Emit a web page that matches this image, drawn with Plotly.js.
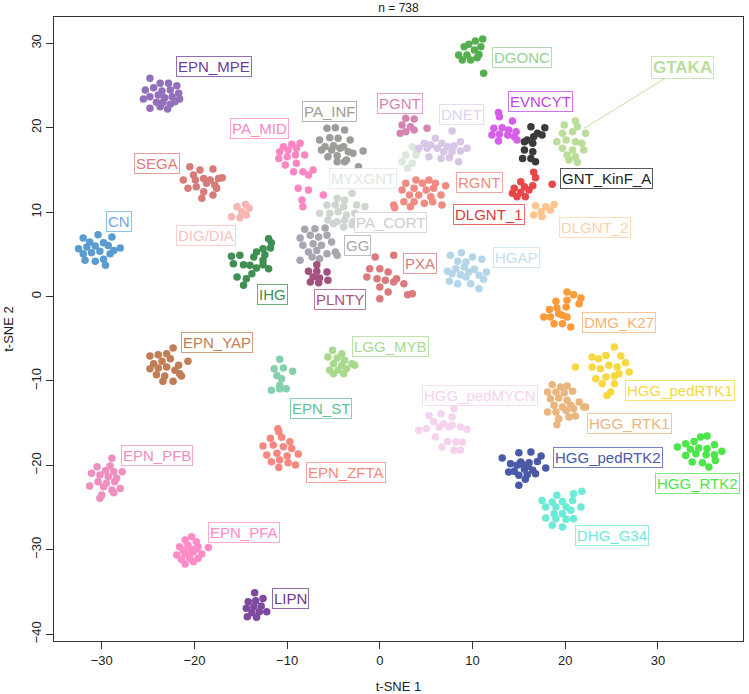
<!DOCTYPE html>
<html>
<head>
<meta charset="utf-8">
<script src="https://cdn.plot.ly/plotly-3.0.1.min.js"></script>
<style>html,body{margin:0;padding:0;background:#fff;}#chart{width:749px;height:694px;}</style>
</head>
<body>
<div id="chart"></div>
<script>
// ---- data (t-SNE coordinates) ----
const classNames = ["CN","DIG/DIA","SEGA","EPN_MPE","PA_MID","PA_INF","MYXGNT","PA_CORT","GG","PLNTY","IHG","EPN_YAP","EPN_ST","LGG_MYB","EPN_ZFTA","EPN_PFB","EPN_PFA","LIPN","DGONC","GTAKA","EVNCYT","GNT_KinF_A","DNET","PGNT","RGNT","DLGNT_1","DLGNT_2","PXA","HGAP","DMG_K27","HGG_pedRTK1","HGG_RTK1","HGG_pedMYCN","HGG_pedRTK2","HGG_RTK2","DHG_G34"];

const x_CN = [-32.0,-30.4,-28.9,-31.3,-29.8,-32.5,-31.6,-30.7,-29.3,-28.0,-32.0,-31.1,-30.2,-29.1,-31.8,-30.7,-29.8,-29.6,-28.7];
const y_CN = [6.93,7.32,7.05,6.46,6.37,5.66,5.86,5.98,6.06,5.75,5.07,5.19,5.36,5.07,4.29,4.17,4.41,3.70,5.47];

const x_DIG_DIA = [-15.4,-14.5,-14.1,-14.9,-14.4,-16.0,-15.1];
const y_DIG_DIA = [10.64,10.92,10.45,10.05,9.66,9.45,9.34];

const x_SEGA = [-20.5,-19.4,-18.0,-21.2,-20.1,-19.0,-18.3,-17.4,-17.0,-20.7,-19.8,-18.7,-17.8,-17.6,-19.0,-18.0,-19.2,-19.9];
const y_SEGA = [15.38,14.99,15.11,13.80,14.40,14.00,13.80,14.00,14.07,12.82,13.01,13.41,13.21,12.82,12.42,12.03,11.64,13.80];

const x_EPN_MPE = [-24.8,-23.7,-22.8,-21.9,-25.3,-24.4,-23.5,-22.6,-21.7,-25.5,-24.8,-23.9,-23.2,-22.4,-21.6,-24.1,-23.4,-22.6,-24.8,-23.7,-22.9,-22.1];
const y_EPN_MPE = [25.85,25.26,25.26,24.98,24.47,24.74,24.35,24.47,24.08,23.40,23.67,23.87,23.55,23.67,23.40,23.01,23.01,22.77,22.30,22.49,22.22,23.08];

const x_PA_MID = [-10.4,-9.5,-8.6,-10.8,-9.9,-9.0,-8.1,-10.9,-10.0,-9.1,-10.2,-9.0,-9.3,-8.3,-7.2,-7.7,-8.8,-7.7,-6.1,-8.4,-8.3];
const y_PA_MID = [17.75,18.03,18.15,17.16,17.36,17.56,16.77,16.37,16.56,16.77,15.58,15.78,14.79,14.79,14.99,14.40,12.82,12.62,12.03,11.43,10.64];

const x_PA_INF = [-5.7,-4.8,-3.8,-6.5,-5.4,-4.5,-3.2,-5.9,-5.0,-3.9,-6.3,-5.2,-4.3,-3.4,-1.8,-5.6,-4.6,-3.6,-2.9,-4.6,-3.8,-2.3];
const y_PA_INF = [19.93,20.00,19.73,18.54,18.81,18.74,18.54,17.75,17.87,17.75,17.36,17.36,17.56,17.16,17.24,16.56,16.68,16.17,16.97,15.97,15.97,15.38];

const x_MYXGNT = [3.5,2.8,3.9,2.4,3.5,3.0,4.0];
const y_MYXGNT = [17.75,16.77,16.77,15.97,15.78,15.19,17.16];

const x_PA_CORT = [-3.0,-4.6,-3.8,-5.7,-4.8,-3.9,-2.5,-1.6,-6.5,-5.4,-4.5,-3.6,-2.7,-5.6,-4.6,-3.8,-2.9,-5.0,-3.9,-3.0,-2.1];
const y_PA_CORT = [12.23,11.64,11.43,10.84,10.84,10.64,10.84,10.64,9.86,9.86,10.05,9.66,9.86,9.06,8.86,9.06,8.86,8.63,8.24,8.51,8.63];

const x_GG = [-8.1,-7.0,-5.9,-8.6,-7.5,-6.6,-5.7,-8.3,-7.2,-6.3,-5.2,-7.7,-6.8,-5.7,-4.8,-8.6,-7.3,-6.5,-4.6];
const y_GG = [7.96,8.03,8.12,6.93,7.25,7.05,7.25,6.07,6.26,6.07,6.46,5.27,5.47,5.07,5.27,4.29,4.68,4.48,4.88];

const x_PLNTY = [-6.8,-7.7,-6.8,-5.7,-7.2,-6.5,-7.5,-6.6,-5.6];
const y_PLNTY = [3.77,2.99,2.99,2.90,2.31,2.19,1.72,1.64,1.92];

const x_IHG = [-12.0,-11.7,-12.6,-11.8,-13.3,-12.4,-16.0,-15.1,-13.6,-12.6,-15.8,-14.7,-14.0,-12.0,-13.3,-13.8,-15.4,-14.4,-14.7,-12.6];
const y_IHG = [6.85,6.37,5.66,5.75,5.27,4.95,4.76,4.88,4.68,4.29,3.89,3.77,3.70,3.29,3.38,2.70,2.31,2.11,1.33,3.77];

const x_EPN_YAP = [-22.3,-24.8,-23.9,-23.0,-24.4,-23.5,-22.6,-21.7,-20.7,-24.8,-23.9,-23.0,-22.1,-24.1,-23.2,-21.6,-23.4,-22.3,-21.4];
const y_EPN_YAP = [-6.10,-7.05,-6.90,-6.78,-7.96,-7.68,-7.37,-8.15,-7.68,-8.55,-8.47,-8.35,-8.74,-9.27,-9.42,-9.15,-10.05,-10.05,-9.42];

const x_EPN_ST = [-10.8,-11.4,-10.4,-9.4,-11.1,-10.6,-10.8,-11.7,-10.8,-10.1];
const y_EPN_ST = [-7.44,-8.55,-8.47,-8.86,-9.34,-9.74,-10.52,-11.11,-10.92,-10.92];

const x_LGG_MYB = [-5.1,-4.1,-5.6,-4.6,-3.8,-3.0,-5.0,-4.1,-2.7,-5.4,-4.5,-3.6,-3.9,-5.0];
const y_LGG_MYB = [-6.37,-6.78,-7.17,-7.29,-7.56,-7.96,-7.96,-8.15,-8.15,-8.74,-8.74,-8.55,-9.15,-9.15];

const x_EPN_ZFTA = [-11.0,-10.9,-11.8,-10.6,-9.7,-12.6,-11.5,-10.4,-9.5,-8.8,-12.2,-11.1,-10.0,-11.7,-10.8,-9.9,-9.1,-10.9];
const y_EPN_ZFTA = [-15.66,-16.02,-16.80,-16.68,-17.20,-17.71,-17.60,-17.80,-17.99,-18.66,-18.78,-18.58,-18.90,-19.57,-19.37,-19.69,-19.96,-20.24];

const x_EPN_PFB = [-28.9,-29.1,-30.5,-29.6,-28.7,-27.8,-31.1,-30.2,-29.3,-28.4,-30.4,-29.5,-28.6,-31.3,-29.8,-28.9,-28.0,-30.0,-28.7,-30.2];
const y_EPN_PFB = [-19.17,-20.08,-20.17,-20.64,-20.76,-20.76,-20.95,-21.15,-21.35,-21.54,-21.94,-22.13,-21.94,-22.45,-22.53,-22.93,-22.73,-23.52,-23.25,-23.91];

const x_EPN_PFA = [-20.3,-21.0,-19.8,-21.6,-20.7,-19.6,-18.5,-21.9,-21.0,-20.1,-19.2,-21.4,-20.5,-19.6,-21.0,-20.1,-20.4,-21.2,-19.8,-20.6];
const y_EPN_PFA = [-28.46,-28.85,-29.05,-29.64,-29.44,-29.64,-29.72,-30.63,-30.43,-30.24,-30.51,-31.14,-31.02,-31.02,-31.69,-31.42,-29.90,-30.10,-29.90,-30.70];

const x_LIPN = [-13.5,-14.2,-13.4,-12.6,-14.4,-13.6,-12.8,-13.8,-13.0,-12.2,-14.3,-13.3];
const y_LIPN = [-35.09,-36.16,-36.04,-35.76,-36.94,-36.75,-36.67,-37.46,-37.35,-37.35,-37.94,-38.01];

const x_DGONC = [11.1,10.3,9.6,10.9,9.1,10.2,8.5,9.4,10.7,8.9,9.8,10.5,11.2];
const y_DGONC = [30.51,30.27,29.88,29.60,29.60,29.21,28.61,28.61,28.69,28.02,28.02,28.29,26.45];

const x_GTAKA = [19.9,21.1,21.3,19.7,20.8,22.2,19.1,20.1,21.1,21.8,19.7,20.8,22.0,20.2,21.1,20.4,21.3];
const y_GTAKA = [20.32,20.79,20.12,19.34,19.53,19.34,18.34,18.54,18.34,18.15,17.56,17.36,17.36,16.77,16.56,16.17,15.90];

const x_EVNCYT = [12.8,12.9,14.3,12.3,13.2,13.9,14.7,12.1,12.9,13.8,14.5,12.8,14.8];
const y_EVNCYT = [21.82,21.30,20.79,19.93,20.00,19.73,19.53,19.14,19.22,19.14,18.93,18.42,18.54];

const x_GNT_KinF_A = [16.3,17.8,17.0,15.9,16.6,17.5,15.6,16.5,15.6,16.5,15.4,16.3,16.8];
const y_GNT_KinF_A = [20.12,20.00,19.34,18.54,18.93,19.14,18.34,18.15,17.36,17.16,16.37,16.37,15.97];

const x_DNET = [7.8,6.0,4.8,5.5,6.7,8.7,4.2,5.1,6.2,7.3,8.0,9.4,6.9,7.8,8.7,6.6,7.5,8.5,5.3];
const y_DNET = [19.61,18.74,18.15,17.95,18.15,18.34,17.56,17.56,17.56,17.75,17.87,17.56,17.16,17.16,17.24,16.37,16.45,15.97,16.56];

const x_PGNT = [2.8,3.7,2.4,3.3,5.1,2.8,3.7,2.2];
const y_PGNT = [21.11,21.03,20.32,20.12,19.93,19.53,19.73,19.34];

const x_RGNT = [3.9,5.3,2.8,4.6,6.0,7.1,2.4,3.7,5.0,5.8,3.2,4.2,5.5,6.6,2.6,3.7,4.8,5.7,6.7,3.3,1.5,1.6];
const y_RGNT = [13.80,13.80,13.41,13.41,13.41,13.13,12.62,12.82,12.62,12.82,12.03,12.03,11.83,12.03,11.23,11.23,11.04,11.23,10.84,10.64,10.84,10.52];

const x_DLGNT_1 = [16.6,16.8,15.2,18.6,14.5,15.6,16.5,14.3,15.2,16.1,14.8,15.7];
const y_DLGNT_1 = [14.72,14.08,13.60,13.29,12.82,13.01,13.13,12.23,12.35,12.62,11.83,11.83];

const x_DLGNT_2 = [18.8,16.8,17.9,17.4,18.4,16.6,17.5];
const y_DLGNT_2 = [10.92,10.76,10.64,10.05,10.25,9.66,9.45];

const x_PXA = [-0.5,1.5,-1.1,0.0,0.9,-1.4,-0.3,0.6,1.5,0.0,0.9,0.0,1.8,2.6,3.0,3.5];
const y_PXA = [4.68,4.88,3.29,3.29,2.90,2.31,2.11,1.92,1.72,1.13,0.53,-0.26,2.11,1.52,0.21,0.33];

const x_HGAP = [7.6,8.8,10.0,11.0,8.4,9.3,7.3,8.2,9.1,10.2,7.8,8.7,9.6,11.5,10.7,7.5,8.4,9.8,11.2,10.7,9.3];
const y_HGAP = [4.88,5.19,4.68,4.41,4.17,4.09,2.99,3.29,3.49,3.22,2.70,2.58,2.90,2.90,2.51,1.80,1.52,1.52,2.04,0.92,2.31];

const x_DMG_K27 = [20.2,20.9,21.7,19.0,20.2,21.5,18.3,19.1,20.1,18.4,19.3,20.2,17.7,18.8,19.7,20.6,19.7];
const y_DMG_K27 = [0.53,0.21,-0.18,-0.57,-0.45,-0.85,-1.52,-1.36,-1.24,-2.43,-2.04,-2.43,-2.43,-3.22,-3.22,-3.61,-2.23];

const x_HGG_pedRTK1 = [25.3,22.9,23.6,24.4,26.0,21.1,22.9,23.8,24.7,25.6,26.5,23.3,24.4,25.3,26.9,24.0,25.3,25.8,24.9,24.5];
const y_HGG_pedRTK1 = [-5.98,-7.17,-7.37,-6.97,-7.05,-8.35,-8.35,-8.55,-8.15,-8.35,-7.84,-9.74,-9.54,-9.42,-8.94,-10.33,-10.33,-9.15,-11.31,-11.71];

const x_HGG_RTK1 = [18.6,19.5,20.2,18.1,19.0,19.9,20.8,18.4,19.3,20.2,21.5,18.8,19.7,20.6,22.2,18.1,19.0,20.1,20.9,19.3,20.4,19.1,21.1,22.0];
const y_HGG_RTK1 = [-10.45,-10.72,-10.60,-11.31,-11.31,-11.40,-11.23,-12.11,-12.03,-12.30,-12.50,-12.89,-13.09,-12.89,-13.09,-13.69,-13.69,-13.49,-13.30,-14.48,-14.28,-15.19,-14.16,-13.09];

const x_HGG_pedMYCN = [8.0,5.3,6.6,7.8,5.8,6.9,7.8,8.7,9.4,4.2,5.0,6.4,7.5,6.0,7.3,8.2,8.9,6.7,8.0,8.7];
const y_HGG_pedMYCN = [-13.29,-14.08,-13.89,-14.28,-14.79,-15.07,-15.26,-15.46,-15.73,-15.85,-15.66,-15.46,-15.46,-16.65,-17.16,-17.24,-17.24,-17.83,-18.22,-18.22];

const x_HGG_pedRTK2 = [13.2,15.0,16.3,17.4,14.1,15.2,16.1,17.0,14.5,15.6,16.5,17.9,13.9,15.0,15.9,16.8,15.7,15.0,14.8,16.0,15.4];
const y_HGG_pedRTK2 = [-19.14,-18.51,-18.42,-18.90,-19.81,-19.61,-19.69,-19.53,-20.71,-20.47,-20.59,-20.32,-20.79,-21.18,-21.11,-20.99,-21.66,-22.37,-20.00,-20.10,-19.90];

const x_HGG_RTK2 = [34.6,35.3,33.0,33.9,36.1,32.1,33.5,34.4,35.3,36.9,33.0,34.1,35.2,36.1,33.7,34.8,36.2,35.5];
const y_HGG_RTK2 = [-16.65,-16.53,-17.44,-17.16,-17.56,-17.83,-18.10,-17.95,-18.03,-18.34,-18.82,-18.63,-18.74,-18.74,-19.61,-19.69,-19.41,-20.20];

const x_DHG_G34 = [21.8,20.9,19.1,17.5,18.6,19.7,20.8,17.9,19.0,20.1,21.7,18.8,19.7,20.6,17.9,19.0,20.1,20.9,18.6,19.7];
const y_DHG_G34 = [-23.08,-23.36,-23.55,-24.15,-24.35,-24.27,-24.15,-24.94,-24.94,-24.94,-24.94,-25.73,-25.73,-25.33,-26.24,-26.33,-26.40,-26.33,-27.11,-27.31];

const xTicks = [-30,-20,-10,0,10,20,30];
const yTicks = [-40,-30,-20,-10,0,10,20,30];

// ---- styles & label placement (layout, not data) ----
const pointColor = {
  "CN":"#5b9bd0","DIG/DIA":"#f9b4b4","SEGA":"#d87c79","EPN_MPE":"#9270bb","PA_MID":"#fa86c2",
  "PA_INF":"#9b9e98","MYXGNT":"#dde8dd","PA_CORT":"#cfd6cf","GG":"#a9a6b1","PLNTY":"#a3527f",
  "IHG":"#3d8f52","EPN_YAP":"#c07d56","EPN_ST":"#86d0ab","LGG_MYB":"#a8da8e","EPN_ZFTA":"#f8877f",
  "EPN_PFB":"#ee8fbf","EPN_PFA":"#ff8cc6","LIPN":"#7e4a9f","DGONC":"#56ae51","GTAKA":"#bade9a",
  "EVNCYT":"#d55eea","GNT_KinF_A":"#3a3a3a","DNET":"#d8c6e6","PGNT":"#d485b3","RGNT":"#f08a82",
  "DLGNT_1":"#e8474a","DLGNT_2":"#fdc58c","PXA":"#da7a7c","HGAP":"#b5d6e8","DMG_K27":"#fd9a3a",
  "HGG_pedRTK1":"#f8d840","HGG_RTK1":"#ebb57e","HGG_pedMYCN":"#f5d3ee","HGG_pedRTK2":"#4a59a8",
  "HGG_RTK2":"#4de64a","DHG_G34":"#6cebd6"
};
const labelColor = Object.assign({}, pointColor, {
  "EPN_MPE":"#6a3d9a","LIPN":"#6b3a8e","DGONC":"#98d094","EVNCYT":"#c245e0","GNT_KinF_A":"#222222",
  "DNET":"#e0d3ee","HGAP":"#c6deec","DMG_K27":"#fdb274","DLGNT_2":"#fdd2a6","EPN_ST":"#5fc196",
  "DLGNT_1":"#e0383c","CN":"#6aaad8","DIG/DIA":"#f7c2c2","PA_CORT":"#cdcdcd","MYXGNT":"#e0e8e0"
});
const labelPos = {
  "CN":[-28.1,8.95],"DIG/DIA":[-18.7,7.29],"SEGA":[-24.0,15.8],"EPN_MPE":[-17.9,27.2],"PA_MID":[-13.0,19.88],
  "PA_INF":[-5.4,21.9],"MYXGNT":[-1.8,14.0],"PA_CORT":[1.2,8.75],"GG":[-2.4,6.02],"PLNTY":[-4.3,-0.3],
  "IHG":[-11.6,0.24],"EPN_YAP":[-17.6,-5.49],"EPN_ST":[-6.4,-13.25],"LGG_MYB":[1.1,-5.87],"EPN_ZFTA":[-3.6,-20.83],
  "EPN_PFB":[-24.0,-18.78],"EPN_PFA":[-14.7,-27.99],"LIPN":[-9.6,-35.76],"DGONC":[15.3,28.34],"GTAKA":[32.7,27.16],
  "EVNCYT":[17.3,23.08],"GNT_KinF_A":[24.5,13.96],"DNET":[8.8,21.59],"PGNT":[2.2,22.9],"RGNT":[10.8,13.57],
  "DLGNT_1":[11.8,9.77],"DLGNT_2":[23.2,8.23],"PXA":[4.3,3.89],"HGAP":[14.7,4.68],"DMG_K27":[25.8,-3.02],
  "HGG_pedRTK1":[32.4,-11.11],"HGG_RTK1":[26.9,-15.07],"HGG_pedMYCN":[10.8,-11.67],"HGG_pedRTK2":[24.6,-19.02],
  "HGG_RTK2":[34.3,-22.1],"DHG_G34":[25.1,-28.29]
};
const gtakaTarget = [22.0, 19.9];

function varKey(n){ return n.replace(/\//g,"_"); }
const dataX = {}, dataY = {};
classNames.forEach(n => { dataX[n] = eval("x_" + varKey(n)); dataY[n] = eval("y_" + varKey(n)); });

function hexA(hex, a){
  const r = parseInt(hex.slice(1,3),16), g = parseInt(hex.slice(3,5),16), b = parseInt(hex.slice(5,7),16);
  return "rgba(" + r + "," + g + "," + b + "," + a + ")";
}

const FONT = "Liberation Sans, Arial, Helvetica, sans-serif";

const traces = classNames.map(n => ({
  type: "scatter", mode: "markers", name: n,
  x: dataX[n], y: dataY[n],
  marker: { color: pointColor[n], size: 7.5, line: { width: 0 } },
  hoverinfo: "skip", showlegend: false, cliponaxis: false
}));

const annotations = classNames.map(n => {
  const c = labelColor[n];
  const a = {
    text: n, xref: "x", yref: "y", x: labelPos[n][0], y: labelPos[n][1],
    showarrow: false, bgcolor: "rgba(255,255,255,0.95)", bordercolor: hexA(c, 0.75),
    borderwidth: 1, borderpad: 1,
    font: { family: FONT, size: 15, color: c }
  };
  if (n === "GTAKA") {
    a.font = { family: FONT, size: 17, color: c, weight: "bold" };
    a.text = "<b>GTAKA</b>";
    a.x = gtakaTarget[0]; a.y = gtakaTarget[1];
    a.showarrow = true; a.axref = "x"; a.ayref = "y";
    a.ax = labelPos[n][0]; a.ay = labelPos[n][1];
    a.arrowhead = 0; a.arrowwidth = 1; a.arrowcolor = hexA(c, 0.9); a.standoff = 0;
  }
  return a;
});

const layout = {
  width: 749, height: 694,
  margin: { l: 54, r: 6, t: 17, b: 53 },
  paper_bgcolor: "#ffffff", plot_bgcolor: "#ffffff",
  font: { family: FONT, color: "#222" },
  title: { text: "n = 738", font: { family: FONT, size: 12, color: "#222" },
           x: 0.5, xref: "paper", xanchor: "center", y: 0.989, yref: "container", yanchor: "middle" },
  xaxis: {
    range: [-35.15, 39.18], tickvals: xTicks, ticktext: xTicks.map(v => v < 0 ? "\u2212" + Math.abs(v) : String(v)),
    ticks: "outside", ticklen: 7, tickwidth: 1, tickcolor: "#333",
    showline: true, mirror: true, linecolor: "#333", linewidth: 1.2,
    showgrid: false, zeroline: false,
    tickfont: { family: FONT, size: 13, color: "#222" },
    title: { text: "t-SNE 1", font: { family: FONT, size: 13, color: "#222" }, standoff: 16 },
    automargin: false, fixedrange: true
  },
  yaxis: {
    range: [-40.81, 33.12], tickvals: yTicks, ticktext: yTicks.map(v => v < 0 ? "\u2212" + Math.abs(v) : String(v)),
    tickangle: -90,
    ticks: "outside", ticklen: 7, tickwidth: 1, tickcolor: "#333",
    showline: true, mirror: true, linecolor: "#333", linewidth: 1.2,
    showgrid: false, zeroline: false,
    tickfont: { family: FONT, size: 13, color: "#222" },
    title: { text: "t-SNE 2", font: { family: FONT, size: 13, color: "#222" }, standoff: 12 },
    automargin: false, fixedrange: true
  },
  annotations: annotations
};

Plotly.newPlot("chart", traces, layout, { staticPlot: true, displayModeBar: false });
</script>
</body>
</html>
